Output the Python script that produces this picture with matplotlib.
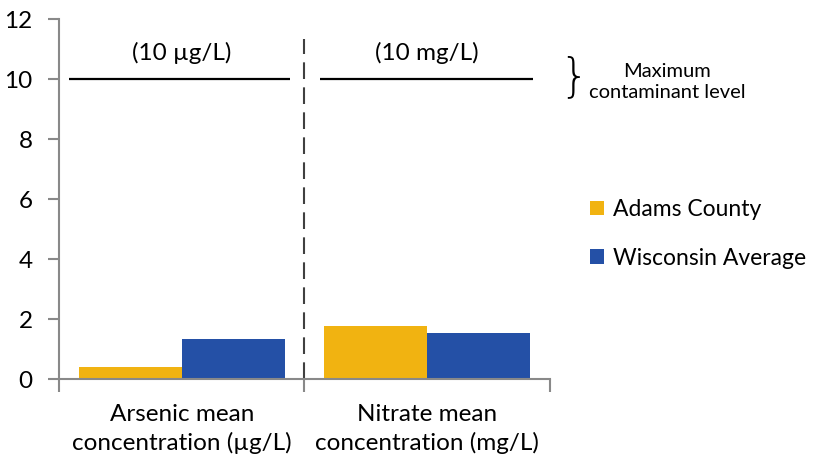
import matplotlib
matplotlib.use('Agg')
import matplotlib.pyplot as plt
import numpy as np

# Data
categories = ['Arsenic mean\nconcentration (µg/L)', 'Nitrate mean\nconcentration (mg/L)']
series_names = ['Adams County', 'Wisconsin Average']
adams = [0.4, 1.76]
wisconsin = [1.33, 1.53]
mcl_values = [10, 10]
mcl_labels = ['(10 µg/L)', '(10 mg/L)']
y_ticks = [0, 2, 4, 6, 8, 10, 12]

yellow = '#F1B311'
blue = '#2450A6'
grey = '#898989'

plt.rcParams['font.family'] = ['Lato', 'DejaVu Sans']

fig = plt.figure(figsize=(8.2, 4.59), dpi=100)
ax = fig.add_axes([59 / 820, 1 - 379 / 459, (550 - 59) / 820, (379 - 19) / 459])

x = np.arange(len(categories))
w = 0.42
ax.bar(x - w / 2, adams, w, color=yellow, label=series_names[0])
ax.bar(x + w / 2, wisconsin, w, color=blue, label=series_names[1])

# maximum contaminant level lines and labels
line_l = [-0.46, -0.437]
line_r = [0.44, 0.43]
for i, (v, lab) in enumerate(zip(mcl_values, mcl_labels)):
    ax.plot([i + line_l[i], i + line_r[i]], [v, v], color='black', lw=1.6,
            solid_capstyle='butt')
    ax.text(i, v + 0.5, lab, ha='center', va='bottom', fontsize=17.5)

# dashed separator between categories
ax.plot([0.5, 0.5], [0, 11.35], color='#404040', lw=1.5, dashes=(8, 4))

ax.set_xlim(-0.5, 1.5)
ax.set_ylim(0, 12)
ax.set_yticks(y_ticks)
ax.set_xticks(x)
ax.set_xticklabels(categories, fontsize=17.5, linespacing=1.4)
ax.set_xticks([-0.5, 0.5, 1.5], minor=True)
ax.tick_params(axis='x', which='major', length=0, pad=18)
ax.tick_params(axis='x', which='minor', length=9, width=1.5, color=grey)
ax.tick_params(axis='y', length=8, width=1.5, color=grey, pad=11, labelsize=17.5)

for s in ['top', 'right']:
    ax.spines[s].set_visible(False)
for s in ['left', 'bottom']:
    ax.spines[s].set_color(grey)
    ax.spines[s].set_linewidth(1.5)

fig.legend(loc='center left', bbox_to_anchor=(590 / 820, 1 - 234 / 459),
           frameon=False, fontsize=16.5, handlelength=0.6, handleheight=0.6,
           handletextpad=0.4, labelspacing=1.2, borderpad=0, borderaxespad=0)

# brace and note
fig.text(574 / 820, 1 - 77 / 459, '}', fontsize=33, ha='center', va='center',
         fontweight='light', family='DejaVu Sans')
fig.text(667 / 820, 1 - 82 / 459, 'Maximum\ncontaminant level', fontsize=14.5,
         ha='center', va='center', linespacing=1.35)

fig.savefig('out.png', dpi=100)
